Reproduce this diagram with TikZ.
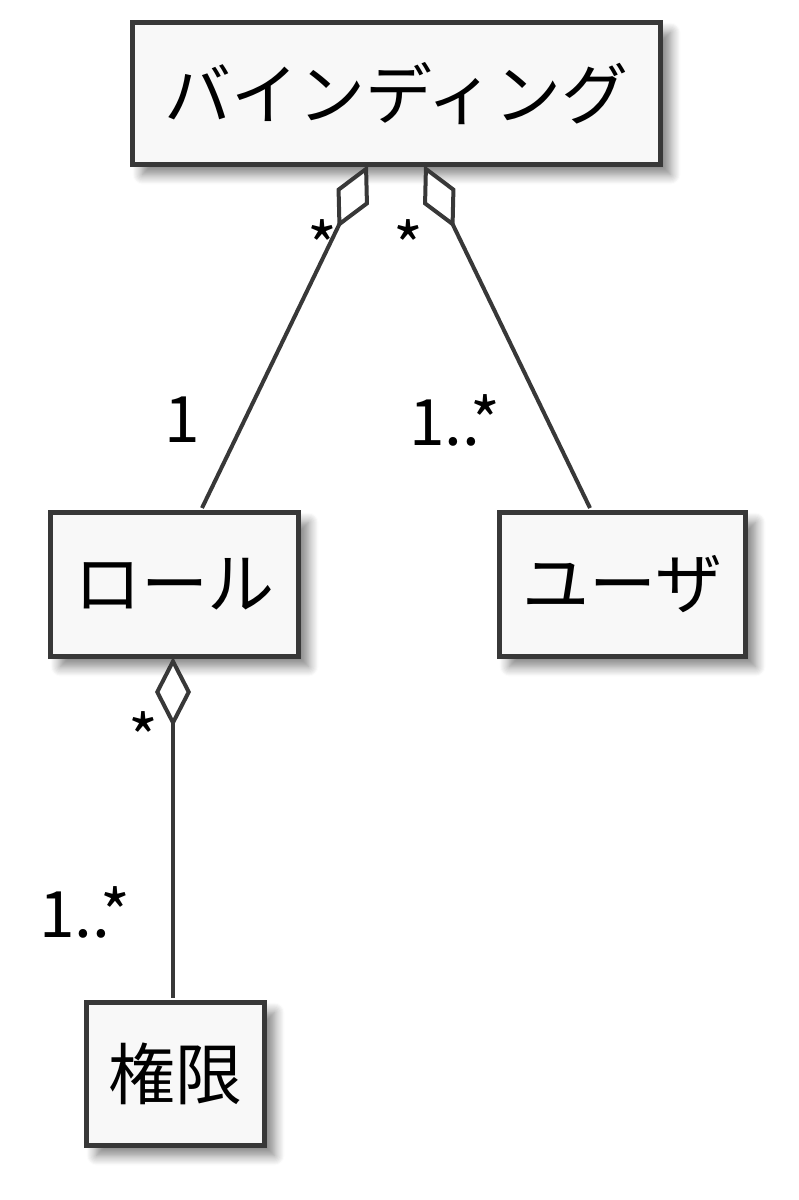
\documentclass[tikz,border=0pt]{standalone}
\usepackage{fontspec}
\setmainfont{Noto Sans CJK JP}
\usetikzlibrary{arrows.meta,shadows.blur}
\definecolor{edge}{HTML}{383838}
\definecolor{boxfill}{HTML}{F8F8F8}
\begin{document}
\begin{tikzpicture}[x=1pt,y=-1pt,
  cls/.style={draw=edge,line width=5pt,fill=boxfill,inner sep=0pt,anchor=north west,
    font=\fontsize{67}{67}\selectfont,blur shadow={shadow xshift=10pt,shadow yshift=-10pt,shadow blur radius=10pt,shadow blur steps=10,shadow opacity=50}},
  conn/.style={draw=edge,line width=4pt},
  agg/.style={conn,{Diamond[open,length=70pt,width=36pt,fill=white,line width=4pt]}-},
  lbl/.style={font=\fontsize{64}{64}\selectfont,text=black,inner sep=0pt}]
\useasboundingbox (0,0) rectangle (799,1200);
\node[cls,minimum width=528pt,minimum height=142pt] (bind) at (130,20) {バインディング};
\node[cls,minimum width=248pt,minimum height=144pt] (role) at (48,510) {ロール};
\node[cls,minimum width=246pt,minimum height=144pt] (user) at (497,510) {ユーザ};
\node[cls,minimum width=178pt,minimum height=143pt] (perm) at (84,1000) {権限};
\coordinate (t1) at (368,165);
\coordinate (t2) at (424,165);
\coordinate (t3) at (173,657);
\coordinate (e1) at (202,508);
\coordinate (e2) at (590,508);
\coordinate (e3) at (173,998);
\draw[agg] (t1) -- (e1);
\draw[agg] (t2) -- (e2);
\draw[agg] (t3) -- (e3);
\node[lbl] (s1) at (322,245) {*};
\node[lbl] (s2) at (408,245) {*};
\node[lbl] (n1) at (182,420) {1};
\node[lbl] (n2) at (455,420) {1..*};
\node[lbl] (s3) at (143,737) {*};
\node[lbl] (n3) at (85,912) {1..*};
\end{tikzpicture}
\end{document}
